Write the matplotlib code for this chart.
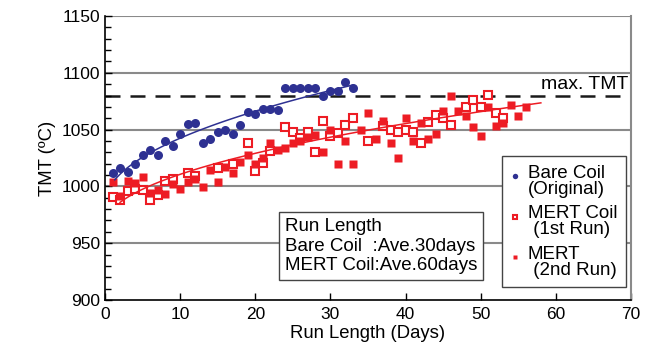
import matplotlib as mpl
mpl.use('Agg')
import matplotlib.pyplot as plt
from matplotlib.ticker import MultipleLocator
from matplotlib.legend_handler import HandlerLine2D
import numpy as np

plt.rcParams['font.family'] = ['Liberation Sans', 'DejaVu Sans']

# Bare coil (original run)
bare_days = [1, 2, 3, 4, 5, 6, 7, 8, 9, 10, 11, 12, 13, 14, 15, 16, 17,
             18, 19, 20, 21, 22, 23, 24, 25, 26, 27, 28, 29, 30, 31, 32, 33]
bare_tmt = [1011.5, 1016, 1012.7, 1019.7, 1028, 1031.8, 1028, 1039.7, 1035.6,
            1046, 1055, 1055.8, 1038, 1041.7, 1047.6, 1050, 1045.8, 1054,
            1065.8, 1064, 1068, 1068, 1067, 1087, 1086.4, 1086.4, 1086.4,
            1086.4, 1080, 1084, 1084, 1092, 1086.4]

# MERT coil 1st run (open squares)
mert1_days = [1, 2, 3, 4, 5, 6, 7, 8, 9, 11, 12, 15, 17, 19, 20, 21, 22,
              24, 25, 26, 27, 28, 29, 30, 31, 32, 33, 35, 37, 38, 39, 40,
              41, 42, 43, 44, 45, 46, 48, 49, 50, 51, 52, 53]
mert1_tmt = [990.4, 988, 996, 997.7, 996.8, 988, 992.4, 1004.8, 1006.3,
             1011.8, 1009.4, 1016, 1019.7, 1038, 1013.8, 1021, 1031.4,
             1052.3, 1048, 1043, 1048.2, 1030.3, 1057.8, 1044, 1046.7, 1054,
             1060, 1040, 1053.4, 1049.7, 1048.2, 1049.7, 1048.2, 1038,
             1056.4, 1062.9, 1060, 1054, 1070.2, 1076, 1070.2, 1080.5,
             1064.4, 1060]

# MERT coil 2nd run (filled squares)
mert2_days = list(range(1, 57))
mert2_tmt = [1003.5, 991.8, 1005, 1002.7, 1008, 994, 996.8, 993.3, 1002,
             997.7, 1003.5, 1006.5, 999.8, 1014.4, 1003.5, 1017.3, 1011.5,
             1021.7, 1027.6, 1019.7, 1024.7, 1037.9, 1032, 1034, 1037.9,
             1040.4, 1043.8, 1045.2, 1030.3, 1049.3, 1019.7, 1040, 1019.7,
             1050, 1064.9, 1041.7, 1057.8, 1038, 1024.7, 1060, 1040, 1056.2,
             1041.7, 1046, 1066, 1079.8, 1066, 1062, 1052, 1044.6, 1070.2,
             1053.4, 1055.5, 1071.7, 1062, 1070.2]

max_tmt = 1080

blue = '#2E3192'
red = '#ED1C24'


class FirstLineHandler(HandlerLine2D):
    # put the legend marker next to the first line of a two-line label
    def create_artists(self, legend, orig_handle, xdescent, ydescent,
                       width, height, fontsize, trans):
        return super().create_artists(legend, orig_handle, xdescent,
                                      ydescent - 0.5 * fontsize, width,
                                      height, fontsize, trans)


fig = plt.figure(figsize=(6.49, 3.47), dpi=100)
ax = fig.add_axes([0.1618, 0.1354, 0.8105, 0.8185])

ax.set_xlim(0, 70)
ax.set_ylim(900, 1150)

for yv in [950, 1000, 1050, 1100, 1150]:
    ax.axhline(yv, color='#8a8a8a', lw=1.5, zorder=0)

ax.axhline(max_tmt, color='#1a1a1a', lw=1.8, dashes=(6, 4), zorder=1)
ax.text(69.6, max_tmt + 2, 'max. TMT', ha='right', va='bottom', fontsize=14)

# fit curves, TMT = a + b*sqrt(days)
bx = np.linspace(1.3, 33, 100)
bfit = np.polyfit(np.sqrt(bare_days), bare_tmt, 1)
ax.plot(bx, np.polyval(bfit, np.sqrt(bx)), color=blue, lw=1.1, zorder=4)

rx = np.linspace(2, 58, 100)
rfit = np.polyfit(np.sqrt(mert1_days), mert1_tmt, 1)
ax.plot(rx, np.polyval(rfit, np.sqrt(rx)), color=red, lw=1.1, zorder=4)

ax.plot(bare_days, bare_tmt, 'o', color=blue, ms=6.5, mec='none', zorder=3,
        label='Bare Coil\n(Original)')
ax.plot(mert1_days, mert1_tmt, 's', mfc='white', mec=red, mew=1.5, ms=5.3,
        zorder=3, label='MERT Coil\n (1st Run)')
ax.plot(mert2_days, mert2_tmt, 's', color=red, ms=6, mec='none', zorder=3,
        label='MERT\n (2nd Run)')

ax.text(23.9, 972, 'Run Length\nBare Coil  :Ave.30days\nMERT Coil:Ave.60days',
        ha='left', va='top', fontsize=13.5, linespacing=1.2, zorder=6,
        bbox=dict(boxstyle='square,pad=0.32', fc='white', ec='#444444', lw=1))

leg = ax.legend(loc='lower right', bbox_to_anchor=(0.99, 0.046), fontsize=13.5,
                frameon=True, fancybox=False, edgecolor='#444444',
                framealpha=1, handlelength=0.5, handletextpad=0.45,
                labelspacing=0.4, borderpad=0.45, borderaxespad=0,
                markerscale=0.6,
                handler_map={mpl.lines.Line2D: FirstLineHandler()})
for t in leg.get_texts():
    t.set_linespacing(0.92)
leg.get_frame().set_linewidth(1)
leg.set_zorder(6)

ax.set_xticks(range(0, 71, 10))
ax.yaxis.set_major_locator(MultipleLocator(50))
ax.yaxis.set_minor_locator(MultipleLocator(10))
ax.tick_params(direction='in', labelsize=12.5, length=5, width=1)
ax.tick_params(which='minor', direction='in', length=4, width=1)
ax.tick_params(axis='x', pad=5)

ax.spines['top'].set_visible(False)
ax.spines['right'].set_color('#8a8a8a')
ax.spines['right'].set_linewidth(1.5)
ax.spines['left'].set_linewidth(1.2)
ax.spines['bottom'].set_linewidth(1.2)

ax.set_xlabel('Run Length (Days)', fontsize=13.3, labelpad=2)
ax.set_ylabel('TMT (ºC)', fontsize=13.3, labelpad=4)

fig.savefig('out.png', dpi=100)
